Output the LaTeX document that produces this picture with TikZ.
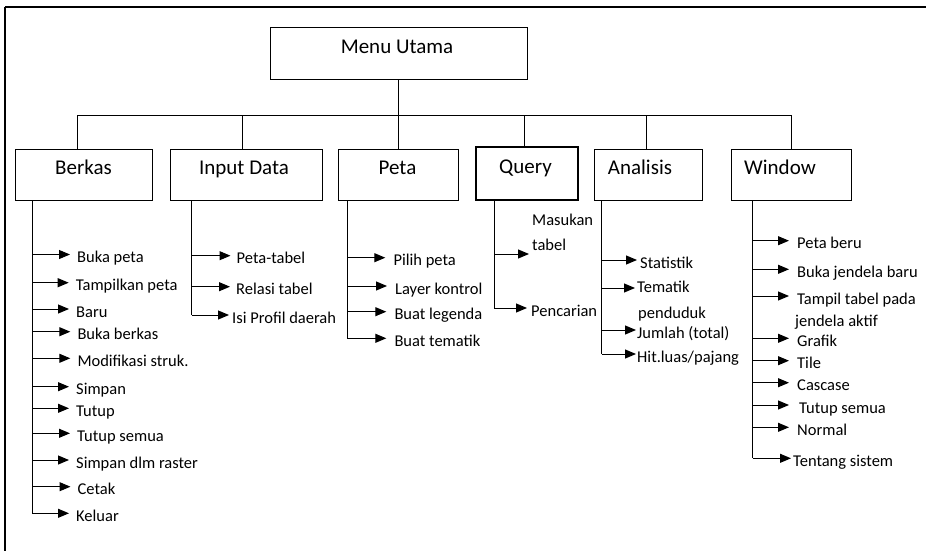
\documentclass[tikz,border=0pt]{standalone}
\usepackage{fontspec}
\setmainfont{Carlito}
\usetikzlibrary{arrows.meta}
\begin{document}
\begin{tikzpicture}[x=1pt,y=-1pt,
  link/.style={line width=1pt},
  box/.style={draw, line width=1pt, inner sep=0pt, rectangle},
  head/.style={font=\fontsize{21}{24}\selectfont, anchor=base, inner sep=0pt},
  item/.style={font=\fontsize{16.5}{19}\selectfont, anchor=west, inner sep=0pt,
               text height=16pt, text depth=0pt},
  note/.style={font=\fontsize{16.5}{19}\selectfont, anchor=base west, inner sep=0pt},
  arr/.style={line width=1pt, -{Triangle[length=11pt,width=9pt]}}]
\useasboundingbox (0,0) rectangle (926,551);

% page frame (top and left edges)
\draw[line width=1.8pt] (5,7.3) -- (926,7.3);
\draw[line width=1.3pt] (5,7.3) -- (5,551);

% main menu and its submenus
\node[box, minimum width=257pt, minimum height=51pt] (menu) at (398.5,53.5) {};
\node[head] (menuT) at (397,53) {Menu Utama};

\node[box, minimum width=137pt, minimum height=51pt] (berkas) at (83.5,174.5) {};
\node[box, minimum width=152pt, minimum height=51pt] (input) at (246,174.5) {};
\node[box, minimum width=120pt, minimum height=51pt] (peta) at (398,174.5) {};
\node[box, line width=1.3pt, minimum width=102pt, minimum height=53pt] (query) at (527,173.5) {};
\node[box, minimum width=108pt, minimum height=51pt] (analisis) at (648,174.5) {};
\node[box, minimum width=120pt, minimum height=51pt] (window) at (791,174.5) {};

\node[head] (berkasT) at (83.5,174.5) {Berkas};
\node[head] (inputT) at (244,174.5) {Input Data};
\node[head] (petaT) at (397.5,174.5) {Peta};
\node[head] (queryT) at (525.5,173.5) {Query};
\node[head] (analisisT) at (640,174.5) {Analisis};
\node[head] (windowT) at (780,174.5) {Window};

% tree connectors
\coordinate (barL) at (77,115);
\coordinate (barR) at (791,115);
\coordinate (sI) at (242,115);
\coordinate (sQ) at (524.5,115);
\coordinate (sA) at (646,115);
\draw[link] (barL) -- (barR);
\draw[link] (menu.south) -- (menu.south |- peta.north);
\draw[link] (barL) -- (barL |- berkas.north);
\draw[link] (sI) -- (sI |- input.north);
\draw[link] (sQ) -- (sQ |- query.north);
\draw[link] (sA) -- (sA |- analisis.north);
\draw[link] (barR) -- (barR |- window.north);

% Berkas
\coordinate (tB) at (32,0);
\node[item] (b1) at (77,254.5) {Buka peta};
\node[item] (b2) at (75.7,282.7) {Tampilkan peta};
\node[item] (b3) at (76,309) {Baru};
\node[item] (b4) at (77.3,331.7) {Buka berkas};
\node[item] (b5) at (77.3,358.3) {Modifikasi struk.};
\node[item] (b6) at (76,386.7) {Simpan};
\node[item] (b7) at (76,408.3) {Tutup};
\node[item] (b8) at (77,433.3) {Tutup semua};
\node[item] (b9) at (76,460) {Simpan dlm raster};
\node[item] (b10) at (77.5,486.7) {Cetak};
\node[item] (b11) at (76,513.3) {Keluar};
\draw[link] (tB |- berkas.south) -- (tB |- b11.west);
\foreach \n in {b1,b2,b3,b4,b5,b6,b7,b8,b9,b10,b11}
  \draw[arr, shorten >=7pt] (tB |- \n.west) -- (\n.west);

% Input Data
\coordinate (tI) at (191.7,0);
\node[item] (i1) at (236.5,255.7) {Peta-tabel};
\node[item] (i2) at (236,286.7) {Relasi tabel};
\node[item] (i3) at (232,315) {Isi Profil daerah};
\draw[link] (tI |- input.south) -- (tI |- i3.west);
\draw[arr, shorten >=6pt] (tI |- i1.west) -- (i1.west);
\draw[arr, shorten >=6pt] (tI |- i2.west) -- (i2.west);
\draw[arr, shorten >=3pt] (tI |- i3.west) -- (i3.west);

% Peta
\coordinate (tP) at (347.3,0);
\node[item] (p1) at (393.3,257.7) {Pilih peta};
\node[item] (p2) at (395,286) {Layer kontrol};
\node[item] (p3) at (394.3,311.7) {Buat legenda};
\node[item] (p4) at (394.3,338.3) {Buat tematik};
\draw[link] (tP |- peta.south) -- (tP |- p4.west);
\foreach \n in {p1,p2,p3,p4}
  \draw[arr, shorten >=8pt] (tP |- \n.west) -- (\n.west);

% Query
\coordinate (tQ) at (494,0);
\coordinate (qa) at (529,254);
\node[note] (q1a) at (532,225) {Masukan};
\node[note] (q1b) at (532,250) {tabel};
\node[item] (q2) at (531,308) {Pencarian};
\draw[link] (tQ |- query.south) -- (tQ |- q2.west);
\draw[arr] (tQ |- qa) -- (qa);
\draw[arr, shorten >=4pt] (tQ |- q2.west) -- (q2.west);

% Analisis
\coordinate (tA) at (601.7,0);
\node[item] (a1) at (640,260) {Statistik};
\node[item] (a2) at (637,284) {Tematik};
\coordinate (a2t) at ([yshift=-4pt]a2.west);
\node[note] (a2b) at (638,318) {penduduk};
\node[item] (a3) at (637,330) {Jumlah (total)};
\node[item] (a4) at (637,354) {Hit.luas/pajang};
\draw[link] (tA |- analisis.south) -- (tA |- a4.west);
\draw[arr, shorten >=3pt] (tA |- a1.west) -- (a1.west);
\draw[arr, shorten >=2pt] (tA |- a2t) -- (a2t);
\draw[arr, shorten >=1pt] (tA |- a3.west) -- (a3.west);
\draw[arr, shorten >=1pt] (tA |- a4.west) -- (a4.west);

% Window
\coordinate (tW) at (752.5,0);
\node[item] (w1) at (797,240.7) {Peta beru};
\node[item] (w2) at (797,269.3) {Buka jendela baru};
\node[item] (w3) at (797,296) {Tampil tabel pada};
\node[note] (w3b) at (795,326.7) {jendela aktif};
\node[item] (w4) at (797,338.3) {Grafik};
\node[item] (w5) at (797,360.7) {Tile};
\node[item] (w6) at (797,382.7) {Cascase};
\node[item] (w7) at (799,405) {Tutup semua};
\node[item] (w8) at (797,427.3) {Normal};
\node[item] (w9) at (793,458.3) {Tentang sistem};
\draw[link] (tW |- window.south) -- (tW |- w9.west);
\foreach \n in {w1,w2,w3,w4,w5,w6,w8}
  \draw[arr, shorten >=8pt] (tW |- \n.west) -- (\n.west);
\draw[arr, shorten >=10pt] (tW |- w7.west) -- (w7.west);
\draw[arr, shorten >=2pt] (tW |- w9.west) -- (w9.west);
\end{tikzpicture}
\end{document}
